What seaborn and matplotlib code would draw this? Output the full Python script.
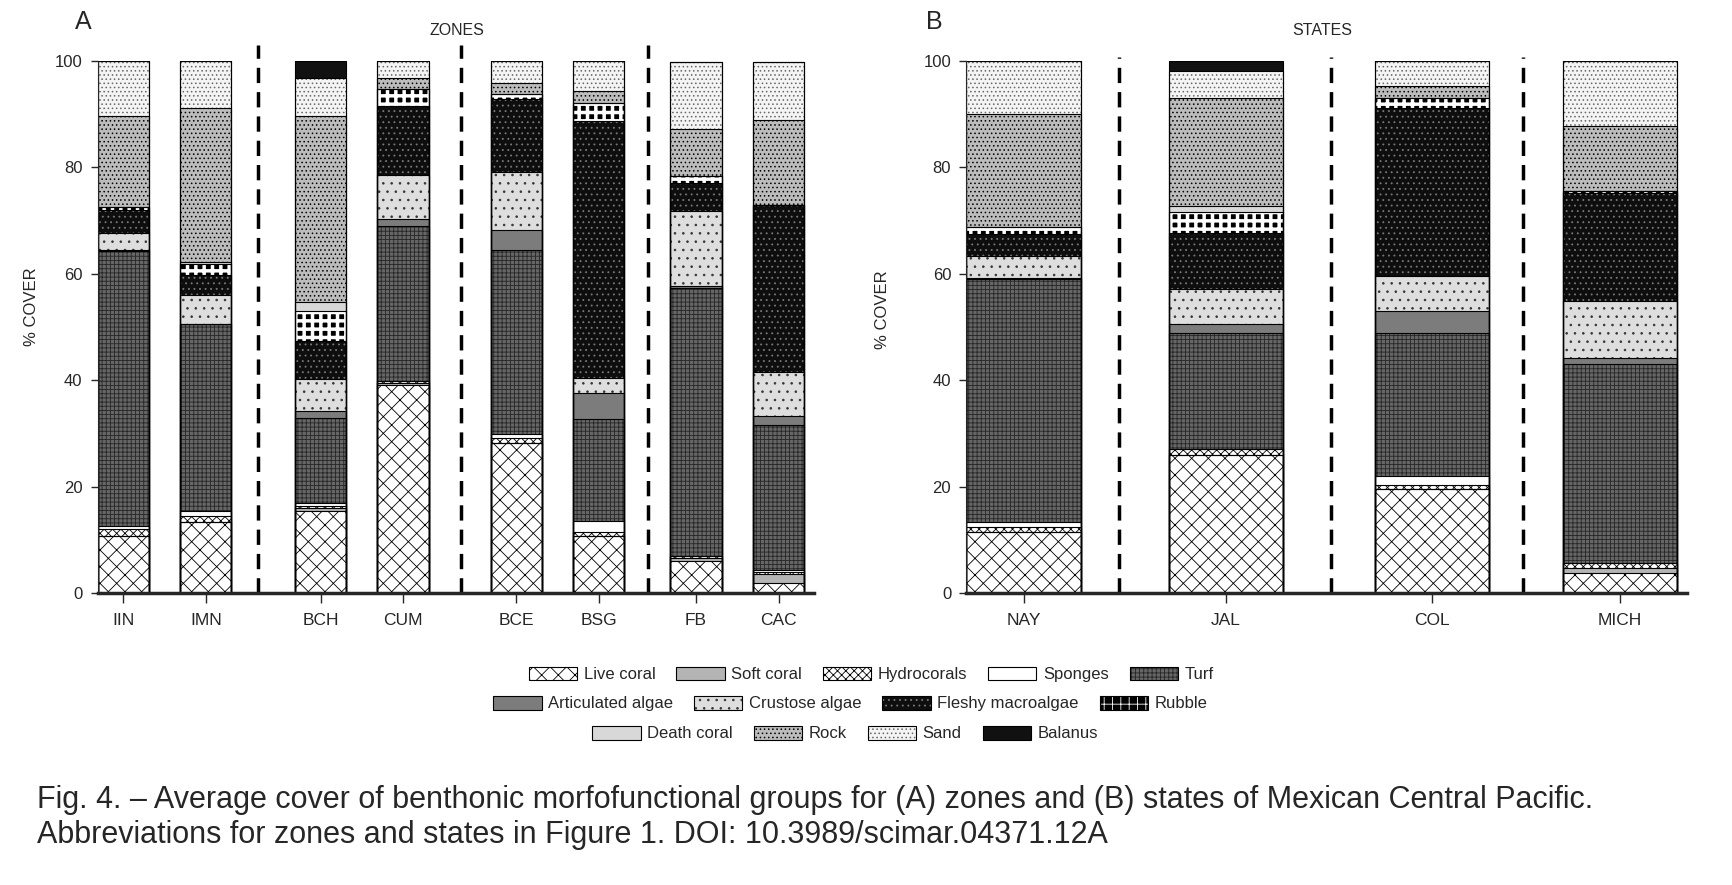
import numpy as np
import pandas as pd
import seaborn as sns
import matplotlib.pyplot as plt
from matplotlib.patches import Patch


# categories
zones = ["IIN", "IMN", "BCH", "CUM", "BCE", "BSG", "FB", "CAC"]
states = ["NAY", "JAL", "COL", "MICH"]
groups = ["Live coral", "Soft coral", "Hydrocorals", "Sponges", "Turf",
          "Articulated algae", "Crustose algae", "Fleshy macroalgae", "Rubble",
          "Death coral", "Rock", "Sand", "Balanus"]

# % cover per zone (A)
live_coral_a = [10.8, 13.3, 15.4, 39.1, 28.2, 10.8, 6.0, 1.9]
soft_coral_a = [0.0, 0.0, 0.5, 0.3, 0.0, 0.0, 0.5, 1.7]
hydrocorals_a = [1.2, 1.2, 0.5, 0.4, 0.9, 0.7, 0.5, 0.3]
sponges_a = [0.5, 0.9, 0.5, 0.0, 0.7, 2.0, 0.0, 0.5]
turf_a = [51.7, 35.1, 15.9, 29.1, 34.7, 19.2, 50.3, 27.2]
articulated_a = [0.2, 0.0, 1.5, 1.5, 3.8, 4.8, 0.5, 1.6]
crustose_a = [3.2, 5.6, 6.0, 8.1, 10.9, 3.0, 14.0, 8.4]
fleshy_a = [4.4, 3.6, 7.1, 13.0, 13.6, 48.3, 5.3, 31.4]
rubble_a = [0.6, 2.1, 5.6, 3.2, 1.0, 3.3, 1.2, 0.0]
death_coral_a = [0.0, 0.5, 1.7, 0.0, 0.0, 0.0, 0.0, 0.0]
rock_a = [17.0, 28.8, 34.9, 2.2, 2.1, 2.2, 8.9, 15.9]
sand_a = [10.4, 8.9, 7.3, 3.1, 4.1, 5.7, 12.6, 10.9]
balanus_a = [0.0, 0.0, 3.1, 0.0, 0.0, 0.0, 0.0, 0.0]

# % cover per state (B)
live_coral_b = [11.5, 25.9, 19.6, 3.7]
soft_coral_b = [0.0, 0.0, 0.0, 1.0]
hydrocorals_b = [0.9, 1.1, 0.7, 0.9]
sponges_b = [1.0, 0.0, 1.7, 0.0]
turf_b = [45.6, 21.9, 26.9, 37.5]
articulated_b = [0.2, 1.7, 4.2, 1.0]
crustose_b = [4.2, 6.6, 6.4, 10.7]
fleshy_b = [4.1, 10.4, 31.6, 20.4]
rubble_b = [1.3, 4.0, 2.0, 0.3]
death_coral_b = [0.0, 1.1, 0.0, 0.0]
rock_b = [21.3, 20.3, 2.2, 12.3]
sand_b = [9.9, 5.1, 4.7, 12.2]
balanus_b = [0.0, 1.9, 0.0, 0.0]

cover_a = [live_coral_a, soft_coral_a, hydrocorals_a, sponges_a, turf_a,
           articulated_a, crustose_a, fleshy_a, rubble_a, death_coral_a,
           rock_a, sand_a, balanus_a]
cover_b = [live_coral_b, soft_coral_b, hydrocorals_b, sponges_b, turf_b,
           articulated_b, crustose_b, fleshy_b, rubble_b, death_coral_b,
           rock_b, sand_b, balanus_b]

# layout (bar positions, dividers)
zone_pos = [0, 1, 2.39, 3.39, 4.76, 5.76, 6.94, 7.94]
zone_div = [1.63, 4.09, 6.36]
state_pos = [0, 1, 2.02, 2.95]
state_div = [0.47, 1.52, 2.47]

# face colour, hatch colour, hatch
styles = {
    "Live coral": ("white", "black", "xx"),
    "Soft coral": ("#b4b4b4", "#b4b4b4", None),
    "Hydrocorals": ("white", "black", "xxxx"),
    "Sponges": ("white", "white", None),
    "Turf": ("#666666", "#262626", "++++"),
    "Articulated algae": ("#7c7c7c", "#7c7c7c", None),
    "Crustose algae": ("#dedede", "#333333", ".."),
    "Fleshy macroalgae": ("#0e0e0e", "#7a7a7a", "..."),
    "Rubble": ("black", "white", "++"),
    "Death coral": ("#d8d8d8", "#d8d8d8", None),
    "Rock": ("#bcbcbc", "black", "...."),
    "Sand": ("#f4f4f4", "#666666", "...."),
    "Balanus": ("#111111", "#111111", None),
}

sns.set_style("ticks")
plt.rcParams["font.family"] = ["Liberation Sans", "DejaVu Sans"]
plt.rcParams["hatch.linewidth"] = 0.6


def stacked(ax, pos, cover, bar_w):
    cum = np.cumsum(np.array(cover, dtype=float), axis=0)
    rel_w = bar_w / np.min(np.diff(pos))
    # fills: draw the tallest cumulative first, lower layers on top
    for i in range(len(groups) - 1, -1, -1):
        face, hcol, hatch = styles[groups[i]]
        df = pd.DataFrame({"pos": pos, "cover": cum[i]})
        sns.barplot(data=df, x="pos", y="cover", native_scale=True, orient="x",
                    width=rel_w, errorbar=None, saturation=1, color=face,
                    edgecolor=hcol, hatch=hatch, linewidth=0, ax=ax)
        if groups[i] == "Rubble":
            for p in ax.patches[-len(pos):]:
                if hasattr(p, "set_hatch_linewidth"):
                    p.set_hatch_linewidth(2.5)
    # outlines
    for i in range(len(groups)):
        df = pd.DataFrame({"pos": pos, "cover": cum[i]})
        sns.barplot(data=df, x="pos", y="cover", native_scale=True, orient="x",
                    width=rel_w, errorbar=None, fill=False, color="black",
                    linewidth=0.8, ax=ax)


def style_axis(ax, pos, labels, bar_w, right, divs, div_top):
    ax.set_xlim(pos[0] - bar_w / 2, right)
    ax.set_ylim(0, 100)
    ax.set_yticks(range(0, 101, 20))
    ax.set_xticks(pos)
    ax.set_xticklabels(labels)
    ax.set_xlabel("")
    ax.set_ylabel("")
    sns.despine(ax=ax)
    ax.spines["bottom"].set_linewidth(2.5)
    ax.spines["left"].set_linewidth(0.8)
    ax.tick_params(axis="x", length=7, width=1, pad=7.5, labelsize=12.5)
    ax.tick_params(axis="y", length=5, width=1, pad=6, labelsize=12)
    for d in divs:
        ax.axvline(d, ymin=0, ymax=div_top, color="black", lw=2.5,
                   ls=(0, (4.4, 2.6)), clip_on=False)


fig = plt.figure(figsize=(17.32, 8.85), dpi=100)
ax_a = fig.add_axes([0.0564, 0.330, 0.4136, 0.601])
ax_b = fig.add_axes([0.558, 0.330, 0.416, 0.601])

bw_a = 0.62
stacked(ax_a, zone_pos, cover_a, bw_a)
style_axis(ax_a, zone_pos, zones, bw_a, 8.37, zone_div, 1.03)

bw_b = 0.565
stacked(ax_b, state_pos, cover_b, bw_b)
style_axis(ax_b, state_pos, states, bw_b, 3.28, state_div, 1.008)

fig.text(0.0433, 0.975, "A", fontsize=18, va="center")
fig.text(0.2637, 0.965, "ZONES", fontsize=11.5, ha="center", va="center")
fig.text(0.5346, 0.975, "B", fontsize=18, va="center")
fig.text(0.7637, 0.965, "STATES", fontsize=11.5, ha="center", va="center")
fig.text(0.018, 0.653, "% COVER", fontsize=12, rotation=90, ha="center", va="center")
fig.text(0.5095, 0.650, "% COVER", fontsize=12, rotation=90, ha="center", va="center")

# legend, three centred rows
rows = [groups[:5], groups[5:9], groups[9:]]
row_y = [0.238, 0.205, 0.171]
row_x = [0.503, 0.491, 0.488]
for names, x, y in zip(rows, row_x, row_y):
    handles = []
    for n in names:
        face, hcol, hatch = styles[n]
        handles.append((Patch(facecolor=face, edgecolor=hcol, hatch=hatch, linewidth=0),
                        Patch(facecolor="none", edgecolor="black", linewidth=0.8)))
    fig.legend(handles, names, loc="center", bbox_to_anchor=(x, y),
               ncol=len(names), frameon=False, fontsize=12, handlelength=2.9,
               handleheight=0.9, handletextpad=0.4, columnspacing=1.25,
               borderaxespad=0, borderpad=0)

fig.text(0.0214, 0.0965, "Fig. 4. \u2013 Average cover of benthonic morfofunctional groups for "
         "(A) zones and (B) states of Mexican Central Pacific.", fontsize=22, va="center")
fig.text(0.0214, 0.056, "Abbreviations for zones and states in Figure 1. DOI: 10.3989/scimar.04371.12A",
         fontsize=22, va="center")

fig.savefig("out.png", dpi=100)
